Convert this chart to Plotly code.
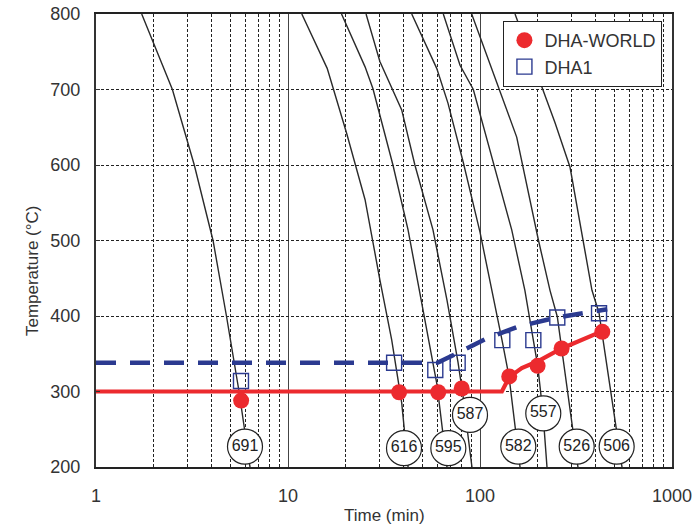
import plotly.graph_objects as go

# ---- cooling curves (time in min, temperature in degC) ----
curve_691_t = [1.73, 2.50, 3.25, 4.07, 4.78, 5.56, 6.34]
curve_691_T = [800, 700, 600, 500, 400, 300, 200]

curve_616_t = [11.8, 16.0, 20.2, 25.2, 30.1, 34.7, 39.1, 42.2]
curve_616_T = [800, 728, 642, 554, 448, 368, 285, 200]

curve_595_t = [19.0, 25.2, 27.7, 35.2, 42.2, 48.7, 59.7, 67.3]
curve_595_T = [800, 730, 701, 600, 514, 429, 309, 200]

curve_587_t = [25.5, 30.1, 39.1, 45.8, 56.9, 67.3, 76.8, 81.5, 90.8]
curve_587_T = [800, 737, 673, 600, 514, 421, 339, 295, 200]

curve_582_t = [44.1, 59.5, 68.1, 81.9, 100, 115.5, 130.2, 141.6, 157.7, 161.6]
curve_582_T = [800, 728, 682, 603, 511, 434, 368, 320, 227, 200]

curve_557_t = [64.4, 78.7, 92.3, 112.7, 146.3, 171.3, 189.5, 199.8, 212.9, 223.3]
curve_557_T = [800, 732, 700, 620, 514, 434, 368, 334, 271, 200]

curve_526_t = [90.5, 118.3, 155.3, 201.3, 231.5, 252.7, 266.4, 294.4, 323.7]
curve_526_T = [800, 719, 637, 501, 434, 399, 357, 275, 200]

curve_506_t = [152.2, 245.9, 294.4, 343.8, 383, 416.8, 432, 486.9, 549]
curve_506_T = [800, 656, 597, 501, 434, 404, 379, 289, 200]

# ---- curve labels ----
label_text = ["691", "616", "595", "587", "582", "557", "526", "506"]
label_t = [5.97, 40.2, 68.4, 88.7, 158.3, 213.6, 318.9, 515]
label_T = [227, 225, 225, 269, 227, 271, 227, 227]

# ---- measured points ----
world_t = [5.7, 37.9, 60.6, 80.3, 142, 199.5, 266, 433.6]
world_T = [288, 299, 299, 304, 320, 334, 357, 379]

dha1_t = [5.69, 35.7, 58.5, 76.5, 130.7, 189.6, 252.7, 416.8]
dha1_T = [314, 338, 328.5, 338, 368, 368, 398, 403.6]

# ---- trend lines ----
world_fit_t = [1, 130, 142, 165, 200, 266, 434]
world_fit_T = [300, 300, 319, 331, 340, 357, 380]

dha1_fit_t = [1, 60, 75, 108, 158, 194, 252, 460]
dha1_fit_T = [338, 338, 350, 370, 386, 391, 398, 409]

x_tick_vals = [1, 10, 100, 1000]
x_tick_text = ["1", "10", "100", "1000"]
x_minor_vals = [m * d for d in (1, 10, 100) for m in range(2, 10)]

FONT = "Liberation Sans, Arial, sans-serif"

fig = go.Figure()

curves = [
    (curve_691_t, curve_691_T), (curve_616_t, curve_616_T),
    (curve_595_t, curve_595_T), (curve_587_t, curve_587_T),
    (curve_582_t, curve_582_T), (curve_557_t, curve_557_T),
    (curve_526_t, curve_526_T), (curve_506_t, curve_506_T),
]
for ct, cT in curves:
    fig.add_trace(go.Scatter(x=ct, y=cT, mode="lines",
                             line=dict(color="#2a2a2a", width=1.4),
                             showlegend=False, hoverinfo="skip"))

fig.add_trace(go.Scatter(x=world_fit_t, y=world_fit_T, mode="lines",
                         line=dict(color="#EC2A2E", width=4.2),
                         showlegend=False, hoverinfo="skip"))
fig.add_trace(go.Scatter(x=dha1_fit_t, y=dha1_fit_T, mode="lines",
                         line=dict(color="#2B3A90", width=4.5, dash="20px,14px"),
                         showlegend=False, hoverinfo="skip"))

fig.add_trace(go.Scatter(x=world_t, y=world_T, mode="markers", name="DHA-WORLD",
                         marker=dict(symbol="circle", size=16, color="#EC2A2E",
                                     line=dict(width=0))))
fig.add_trace(go.Scatter(x=dha1_t, y=dha1_T, mode="markers", name="DHA1",
                         marker=dict(symbol="square-open", size=15, color="#2B3A90",
                                     line=dict(width=1.4))))

fig.add_trace(go.Scatter(x=label_t, y=label_T, mode="markers+text", text=label_text,
                         textposition="middle center",
                         textfont=dict(family=FONT, size=16, color="#222222"),
                         marker=dict(symbol="circle", size=35, color="white",
                                     line=dict(color="#222222", width=1.2)),
                         showlegend=False, hoverinfo="skip"))

fig.update_layout(
    width=694, height=531,
    margin=dict(l=96, r=22, t=14, b=64),
    paper_bgcolor="white", plot_bgcolor="white",
    font=dict(family=FONT, size=18, color="#333333"),
    legend=dict(x=0.707, y=0.985, xanchor="left", yanchor="top",
                bgcolor="white", bordercolor="#222222", borderwidth=1.2,
                font=dict(family=FONT, size=18, color="#333333"),
                tracegroupgap=0, itemwidth=30),
    xaxis=dict(type="log", range=[0, 3], automargin=False,
               tickvals=x_tick_vals, ticktext=x_tick_text,
               showgrid=True, gridcolor="#444444", gridwidth=1.3,
               minor=dict(tickvals=x_minor_vals, showgrid=True, gridcolor="#222222",
                          griddash="3px,2px", gridwidth=1),
               showline=True, mirror=True, linecolor="#222222", linewidth=2,
               ticks="", ticklabelstandoff=11, zeroline=False,
               ticklabeloverflow="allow",
               tickfont=dict(family=FONT, size=18, color="#333333")),
    yaxis=dict(range=[200, 800], dtick=100, automargin=False,
               showgrid=True, gridcolor="#222222", griddash="3px,2px", gridwidth=1,
               showline=True, mirror=True, linecolor="#333333", linewidth=2,
               ticks="inside", ticklen=4, tickcolor="#333333",
               ticklabelstandoff=10, zeroline=False,
               ticklabeloverflow="allow",
               tickfont=dict(family=FONT, size=18, color="#333333")),
    annotations=[
        dict(text="Time (min)", xref="paper", yref="paper", x=0.5, y=-0.106,
             xanchor="center", yanchor="middle", showarrow=False,
             font=dict(family=FONT, size=17, color="#333333")),
        dict(text="Temperature (°C)", xref="paper", yref="paper", x=-0.109, y=0.433,
             xanchor="center", yanchor="middle", showarrow=False, textangle=-90,
             font=dict(family=FONT, size=17, color="#333333")),
    ],
)

# remove the default 8px page margin so the 694x531 figure fills the window exactly
fig.write_html("out.html",
               config={"displayModeBar": False},
               post_script="document.body.style.margin='0';"
                           "document.documentElement.style.overflow='hidden';")
